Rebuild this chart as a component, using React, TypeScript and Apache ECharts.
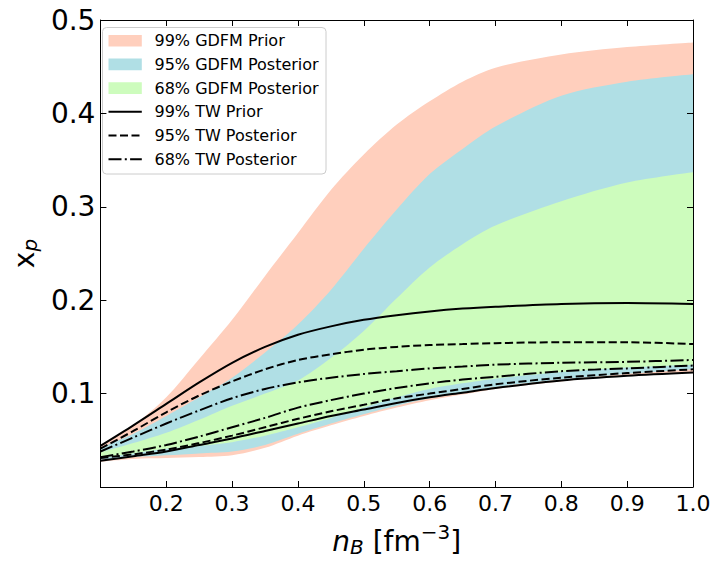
import React, { useEffect, useRef } from "react";
import * as echarts from "echarts";

// density grid n_B [fm^-3]
const X = [0.1, 0.15, 0.2, 0.25, 0.3, 0.35, 0.4, 0.45, 0.5, 0.55, 0.6, 0.65, 0.7, 0.8, 0.9, 1.0];

// GDFM bands (lower / upper)
const GDFM_PRIOR99_LO = [0.027, 0.030, 0.031, 0.032, 0.034, 0.042, 0.055, 0.066, 0.076, 0.085, 0.093, 0.099, 0.105, 0.113, 0.119, 0.1225];
const GDFM_PRIOR99_HI = [0.045, 0.066, 0.096, 0.137, 0.179, 0.226, 0.272, 0.318, 0.356, 0.388, 0.413, 0.434, 0.449, 0.463, 0.471, 0.476];
const GDFM_POST95_LO = [0.029, 0.032, 0.034, 0.036, 0.038, 0.045, 0.057, 0.068, 0.078, 0.087, 0.095, 0.101, 0.107, 0.115, 0.121, 0.126];
const GDFM_POST95_HI = [0.042, 0.057, 0.076, 0.096, 0.117, 0.144, 0.174, 0.211, 0.255, 0.297, 0.335, 0.362, 0.386, 0.419, 0.434, 0.442];
const GDFM_POST68_LO = [0.031, 0.036, 0.041, 0.044, 0.048, 0.055, 0.064, 0.074, 0.085, 0.096, 0.105, 0.111, 0.116, 0.123, 0.128, 0.131];
const GDFM_POST68_HI = [0.037, 0.047, 0.058, 0.072, 0.087, 0.100, 0.114, 0.138, 0.167, 0.202, 0.235, 0.260, 0.280, 0.306, 0.326, 0.337];

// TW curves (lower / upper)
const TW_PRIOR99_LO = [0.028, 0.033, 0.038, 0.045, 0.052, 0.060, 0.068, 0.076, 0.083, 0.090, 0.096, 0.101, 0.106, 0.114, 0.119, 0.1225];
const TW_PRIOR99_HI = [0.044, 0.066, 0.089, 0.112, 0.133, 0.150, 0.163, 0.172, 0.179, 0.184, 0.188, 0.191, 0.193, 0.196, 0.197, 0.196];
const TW_POST95_LO = [0.031, 0.035, 0.040, 0.047, 0.055, 0.064, 0.073, 0.081, 0.088, 0.095, 0.100, 0.105, 0.110, 0.117, 0.122, 0.126];
const TW_POST95_HI = [0.041, 0.060, 0.080, 0.098, 0.113, 0.126, 0.136, 0.142, 0.147, 0.150, 0.152, 0.153, 0.154, 0.155, 0.155, 0.153];
const TW_POST68_LO = [0.032, 0.038, 0.045, 0.054, 0.064, 0.074, 0.085, 0.093, 0.100, 0.106, 0.111, 0.115, 0.118, 0.124, 0.127, 0.130];
const TW_POST68_HI = [0.038, 0.053, 0.068, 0.082, 0.095, 0.105, 0.112, 0.117, 0.121, 0.124, 0.127, 0.129, 0.131, 0.133, 0.134, 0.136];

const LEGEND_LABELS = [
  "99% GDFM Prior",
  "95% GDFM Posterior",
  "68% GDFM Posterior",
  "99% TW Prior",
  "95% TW Posterior",
  "68% TW Posterior",
];

const FONT = "DejaVu Sans";
const C_SALMON = "#FFCFBD";
const C_BLUE = "#B0DFE5";
const C_GREEN = "#CDFCBD";
const C_BG = "#FFFFFF";
const DASHED = [8, 3.5];
const DASHDOT = [13, 3.3, 2, 3.3];
const SMOOTH = 0.3;

// Filled edge: area from the curve down to the axis bottom. The nested bands
// are built by painting upper edges (outer to inner) and then lower edges
// (inner to outer) in the colour of the next band out.
function edge(name: string, vals: number[], fill: string, z: number) {
  return {
    type: "line",
    name,
    data: X.map((x, i) => [x, vals[i]]),
    symbol: "none",
    smooth: SMOOTH,
    silent: true,
    lineStyle: { opacity: 0, width: 0 },
    areaStyle: { color: fill, opacity: 1, origin: "start" },
    z,
  };
}

function curve(name: string, vals: number[], dash: any) {
  return {
    type: "line",
    name,
    data: X.map((x, i) => [x, vals[i]]),
    symbol: "none",
    smooth: SMOOTH,
    silent: true,
    lineStyle: { color: "#000", width: 2, type: dash },
    z: 5,
  };
}

export default function App() {
  const ref = useRef<HTMLDivElement>(null);
  useEffect(() => {
    if (!ref.current) return;
    const chart = echarts.init(ref.current, null, { renderer: "svg" });

    const axisLine = { show: true, onZero: false, lineStyle: { color: "#000", width: 1 } };
    const axisTick = { show: true, inside: true, length: 6, lineStyle: { color: "#000", width: 1 } };

    const legendEls: any[] = [
      {
        type: "rect",
        shape: { x: 102.5, y: 27.5, width: 223.5, height: 146.5, r: 4 },
        style: { fill: "rgba(255,255,255,0.85)", stroke: "#cccccc", lineWidth: 1 },
      },
    ];
    const kinds = [
      { k: "band", c: C_SALMON },
      { k: "band", c: C_BLUE },
      { k: "band", c: C_GREEN },
      { k: "line", d: "solid" },
      { k: "line", d: DASHED },
      { k: "line", d: DASHDOT },
    ];
    LEGEND_LABELS.forEach((label, i) => {
      const cy = 40.7 + i * 23.7;
      const kd: any = kinds[i];
      if (kd.k === "band") {
        legendEls.push({
          type: "rect",
          shape: { x: 108.5, y: cy - 5.8, width: 33.3, height: 11.7 },
          style: { fill: kd.c },
        });
      } else {
        legendEls.push({
          type: "line",
          shape: { x1: 108.5, y1: cy, x2: 141.8, y2: cy },
          style: { stroke: "#000", lineWidth: 2, lineDash: kd.d === "solid" ? null : kd.d },
        });
      }
      legendEls.push({
        type: "text",
        x: 154.5,
        y: cy,
        style: { text: label, fontSize: 16, fontFamily: FONT, fill: "#000", verticalAlign: "middle", align: "left" },
      });
    });

    const option: any = {
      animation: false,
      textStyle: { fontFamily: FONT },
      grid: { left: 95, right: 21, top: 20, bottom: 68, containLabel: false },
      xAxis: [
        {
          type: "value",
          min: 0.1,
          max: 1.0,
          interval: 0.1,
          position: "bottom",
          axisLine,
          axisTick,
          splitLine: { show: false },
          axisLabel: {
            fontSize: 22,
            color: "#000",
            margin: 5,
            fontFamily: FONT,
            formatter: (v: number) => (v < 0.15 ? "" : v.toFixed(1)),
          },
          name: "{i|n}{sub|B}{n| [fm}{sup|−3}{n|]}",
          nameLocation: "middle",
          nameGap: 40,
          nameTextStyle: {
            fontFamily: FONT,
            color: "#000",
            rich: {
              i: { fontSize: 28, fontStyle: "italic", fontFamily: FONT, color: "#000", lineHeight: 28 },
              n: { fontSize: 28, fontFamily: FONT, color: "#000", lineHeight: 28 },
              sub: { fontSize: 20, fontStyle: "italic", fontFamily: FONT, color: "#000", lineHeight: 20, padding: [12, 0, 0, 0] },
              sup: { fontSize: 20, fontFamily: FONT, color: "#000", lineHeight: 20, padding: [0, 0, 18, 0] },
            },
          },
          z: 10,
        },
        {
          type: "value",
          min: 0.1,
          max: 1.0,
          interval: 0.1,
          position: "top",
          axisLine,
          axisTick,
          splitLine: { show: false },
          axisLabel: { show: false },
          z: 10,
        },
      ],
      yAxis: [
        {
          type: "value",
          min: 0,
          max: 0.5,
          interval: 0.1,
          position: "left",
          axisLine,
          axisTick,
          splitLine: { show: false },
          axisLabel: {
            fontSize: 28,
            color: "#000",
            margin: 5,
            fontFamily: FONT,
            formatter: (v: number) => (v < 0.05 ? "" : v.toFixed(1)),
          },
          name: "{n|x}{sub|p}",
          nameLocation: "middle",
          nameGap: 58,
          nameTextStyle: {
            fontFamily: FONT,
            color: "#000",
            rich: {
              n: { fontSize: 28, fontFamily: FONT, color: "#000", lineHeight: 28 },
              sub: { fontSize: 20, fontStyle: "italic", fontFamily: FONT, color: "#000", lineHeight: 20, padding: [12, 0, 0, 0] },
            },
          },
          z: 10,
        },
        {
          type: "value",
          min: 0,
          max: 0.5,
          interval: 0.1,
          position: "right",
          axisLine,
          axisTick,
          splitLine: { show: false },
          axisLabel: { show: false },
          z: 10,
        },
      ],
      series: [
        edge("99% GDFM Prior (upper)", GDFM_PRIOR99_HI, C_SALMON, 1),
        edge("95% GDFM Posterior (upper)", GDFM_POST95_HI, C_BLUE, 1),
        edge("68% GDFM Posterior (upper)", GDFM_POST68_HI, C_GREEN, 1),
        edge("68% GDFM Posterior (lower)", GDFM_POST68_LO, C_BLUE, 1),
        edge("95% GDFM Posterior (lower)", GDFM_POST95_LO, C_SALMON, 1),
        edge("99% GDFM Prior (lower)", GDFM_PRIOR99_LO, C_BG, 1),
        curve("99% TW Prior", TW_PRIOR99_HI, "solid"),
        curve("99% TW Prior", TW_PRIOR99_LO, "solid"),
        curve("95% TW Posterior", TW_POST95_HI, DASHED),
        curve("95% TW Posterior", TW_POST95_LO, DASHED),
        curve("68% TW Posterior", TW_POST68_HI, DASHDOT),
        curve("68% TW Posterior", TW_POST68_LO, DASHDOT),
      ],
      graphic: [{ type: "group", z: 100, children: legendEls }],
    };
    chart.setOption(option);
    return () => chart.dispose();
  }, []);
  return (
    <div
      ref={ref}
      style={{ position: "absolute", left: 0, top: 0, width: 714, height: 565, background: "#fff" }}
    />
  );
}
